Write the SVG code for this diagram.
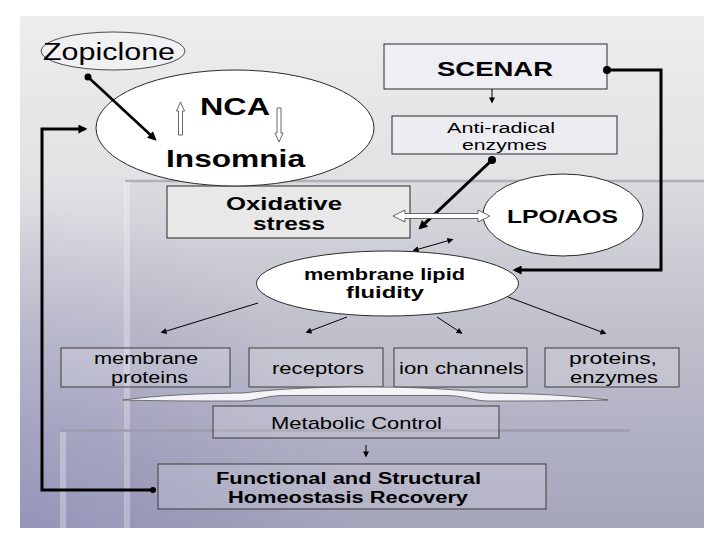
<svg xmlns="http://www.w3.org/2000/svg" width="720" height="540" viewBox="0 0 720 540">
<defs>
  <linearGradient id="bg" x1="0" y1="0" x2="0" y2="1">
    <stop offset="0" stop-color="#ededed"/>
    <stop offset="0.32" stop-color="#e2e2e5"/>
    <stop offset="0.6" stop-color="#c7c7d3"/>
    <stop offset="1" stop-color="#a9a9c1"/>
  </linearGradient>
  <radialGradient id="corner" cx="20" cy="528" r="330" gradientUnits="userSpaceOnUse">
    <stop offset="0" stop-color="#7c7cb0" stop-opacity="0.45"/>
    <stop offset="1" stop-color="#7c7cb0" stop-opacity="0"/>
  </radialGradient>
  <marker id="ahB" viewBox="0 0 10 10" refX="7" refY="5" markerWidth="11" markerHeight="9" markerUnits="userSpaceOnUse" orient="auto">
    <path d="M0,0 L10,5 L0,10 z" fill="#000"/>
  </marker>
  <marker id="ahS" viewBox="0 0 10 10" refX="7" refY="5" markerWidth="8" markerHeight="6" markerUnits="userSpaceOnUse" orient="auto-start-reverse">
    <path d="M0,0 L10,5 L0,10 z" fill="#000"/>
  </marker>
</defs>
<style>
  .t{font-family:"Liberation Sans",Arial,sans-serif;fill:#000}
  .b{font-weight:bold}
  .lbox{fill:#ffffff;fill-opacity:0.16;stroke:#3c3c3c;stroke-width:1}
  .ell{fill:#ffffff;stroke:#2a2a2a;stroke-width:1}
  .thick{fill:none;stroke:#000;stroke-width:3}
  .thin{fill:none;stroke:#000;stroke-width:1}
  .hollow{fill:#ffffff;stroke:#444;stroke-width:0.8}
</style>
<rect width="720" height="540" fill="#ffffff"/>
<g id="background">
  <rect x="20" y="16" width="684" height="512" fill="url(#bg)"/>
  <rect x="20" y="16" width="684" height="512" fill="url(#corner)"/>
  <rect x="125" y="181" width="579" height="347" fill="#2a2a50" fill-opacity="0.04"/>
  <line x1="125" y1="181" x2="704" y2="181" stroke="#b0b0b6" stroke-width="2.5"/>
  <rect x="124" y="182" width="6" height="346" fill="#ffffff" fill-opacity="0.3"/>
  <line x1="60" y1="430.5" x2="630" y2="430.5" stroke="#9c9cac" stroke-width="2.5"/>
  <rect x="60" y="432" width="6" height="96" fill="#ffffff" fill-opacity="0.3"/>
</g>

<g id="oxidative">
  <rect x="167" y="186" width="243" height="52" fill="#e8e8e8" stroke="#2a2a2a" stroke-width="1"/>
  <text class="t b" x="226" y="210" font-size="17.5" textLength="116" lengthAdjust="spacingAndGlyphs">Oxidative</text>
  <text class="t b" x="253" y="230" font-size="17.5" textLength="72" lengthAdjust="spacingAndGlyphs">stress</text>
</g>

<g id="zopiclone">
  <ellipse cx="113" cy="51" rx="72" ry="19" fill="#f1f1f3" stroke="#222" stroke-width="0.8"/>
  <text class="t" x="43" y="60" font-size="23" textLength="132" lengthAdjust="spacingAndGlyphs">Zopiclone</text>
</g>

<g id="nca">
  <ellipse class="ell" cx="235" cy="128" rx="139" ry="58"/>
  <text class="t b" x="200" y="115" font-size="24" textLength="70" lengthAdjust="spacingAndGlyphs">NCA</text>
  <text class="t b" x="166" y="167" font-size="24" textLength="139" lengthAdjust="spacingAndGlyphs">Insomnia</text>
  <path class="hollow" d="M178.5,135 V111 H176.5 L180.5,102 L184.5,111 H182.5 V135 Z"/>
  <path class="hollow" d="M277,108 V133 H275 L279,142 L283,133 H281 V108 Z"/>
</g>

<g id="scenar">
  <rect x="384" y="44" width="223" height="45" fill="#eeeef4" stroke="#2a2a2a" stroke-width="1"/>
  <text class="t b" x="437" y="76" font-size="20" textLength="116" lengthAdjust="spacingAndGlyphs">SCENAR</text>
</g>

<g id="antiradical">
  <rect x="392" y="116" width="225" height="38" fill="#ececf1" stroke="#2a2a2a" stroke-width="1"/>
  <text class="t" x="447" y="132.5" font-size="15.5" textLength="108" lengthAdjust="spacingAndGlyphs">Anti-radical</text>
  <text class="t" x="462" y="150" font-size="15.5" textLength="85" lengthAdjust="spacingAndGlyphs">enzymes</text>
</g>

<g id="lpo">
  <ellipse class="ell" cx="563" cy="215" rx="80" ry="41"/>
  <text class="t b" x="507" y="223" font-size="19" textLength="111" lengthAdjust="spacingAndGlyphs">LPO/AOS</text>
</g>

<g id="fluidity">
  <ellipse class="ell" cx="387.5" cy="283.5" rx="131" ry="32.5"/>
  <text class="t b" x="304" y="280" font-size="16" textLength="161" lengthAdjust="spacingAndGlyphs">membrane lipid</text>
  <text class="t b" x="346" y="298" font-size="16" textLength="78" lengthAdjust="spacingAndGlyphs">fluidity</text>
</g>

<g id="membrane-proteins">
  <rect class="lbox" x="61" y="348" width="169" height="39"/>
  <text class="t" x="94" y="364" font-size="16" textLength="104" lengthAdjust="spacingAndGlyphs">membrane</text>
  <text class="t" x="111" y="382.5" font-size="16" textLength="77" lengthAdjust="spacingAndGlyphs">proteins</text>
</g>

<g id="receptors">
  <rect class="lbox" x="249" y="348" width="134" height="39"/>
  <text class="t" x="272" y="374" font-size="17" textLength="92" lengthAdjust="spacingAndGlyphs">receptors</text>
</g>

<g id="ion-channels">
  <rect class="lbox" x="394" y="348" width="133" height="39"/>
  <text class="t" x="399" y="374" font-size="17" textLength="125" lengthAdjust="spacingAndGlyphs">ion channels</text>
</g>

<g id="proteins-enzymes">
  <rect class="lbox" x="545" y="348" width="134" height="39"/>
  <text class="t" x="569" y="364" font-size="16" textLength="88" lengthAdjust="spacingAndGlyphs">proteins,</text>
  <text class="t" x="570" y="382.5" font-size="16" textLength="88" lengthAdjust="spacingAndGlyphs">enzymes</text>
</g>

<g id="brace">
  <path d="M123,400 C160,395 200,393.5 243,393 C285,388 325,387 365,387 C405,387 445,388 487,393 C530,393.5 570,395 608,400 C570,401 530,401 487,401 C472,400.5 465,395.5 445,395.5 L285,395.5 C265,395.5 258,400.5 243,401 C200,401 160,401 123,400 Z" fill="#f4f4f8" stroke="#555" stroke-width="0.8"/>
</g>

<g id="metabolic">
  <rect class="lbox" x="213" y="406" width="286" height="32"/>
  <text class="t" x="271" y="429" font-size="17" textLength="171" lengthAdjust="spacingAndGlyphs">Metabolic Control</text>
</g>

<g id="homeostasis">
  <rect class="lbox" x="158" y="464" width="388" height="45"/>
  <text class="t b" x="216" y="484" font-size="16" textLength="265" lengthAdjust="spacingAndGlyphs">Functional and Structural</text>
  <text class="t b" x="228" y="502.5" font-size="16" textLength="240" lengthAdjust="spacingAndGlyphs">Homeostasis Recovery</text>
</g>

<g id="connectors">
  <circle cx="88" cy="77" r="3.5" fill="#000"/>
  <line x1="88" y1="77" x2="154.6" y2="138.8" stroke="#000" stroke-width="2.6" marker-end="url(#ahB)"/>
  <circle cx="153" cy="490" r="3" fill="#000"/>
  <path class="thick" d="M153,490 H42 V129 H84.7" marker-end="url(#ahB)"/>
  <circle cx="607" cy="70" r="4" fill="#000"/>
  <path class="thick" d="M607,70 H661 V270 H515.3" marker-end="url(#ahB)"/>
  <circle cx="492" cy="160" r="4" fill="#000"/>
  <line x1="492" y1="160" x2="420.4" y2="227.7" class="thick" marker-end="url(#ahB)"/>
  <path class="hollow" d="M393,216 L405,210 V213.5 H478 V210 L490,216 L478,222 V218.5 H405 V222 Z"/>
  <line class="thin" x1="492" y1="89" x2="492" y2="101.6" marker-end="url(#ahS)"/>
  <line class="thin" x1="414.3" y1="250.3" x2="451.7" y2="239.7" marker-start="url(#ahS)" marker-end="url(#ahS)"/>
  <line class="thin" x1="258" y1="303" x2="162.3" y2="332.3" marker-end="url(#ahS)"/>
  <line class="thin" x1="347" y1="317" x2="307.2" y2="332.1" marker-end="url(#ahS)"/>
  <line class="thin" x1="437" y1="317" x2="461" y2="332.7" marker-end="url(#ahS)"/>
  <line class="thin" x1="508" y1="297" x2="604.8" y2="333.2" marker-end="url(#ahS)"/>
  <line class="thin" x1="366" y1="445" x2="366" y2="455.6" marker-end="url(#ahS)"/>
</g>
</svg>
